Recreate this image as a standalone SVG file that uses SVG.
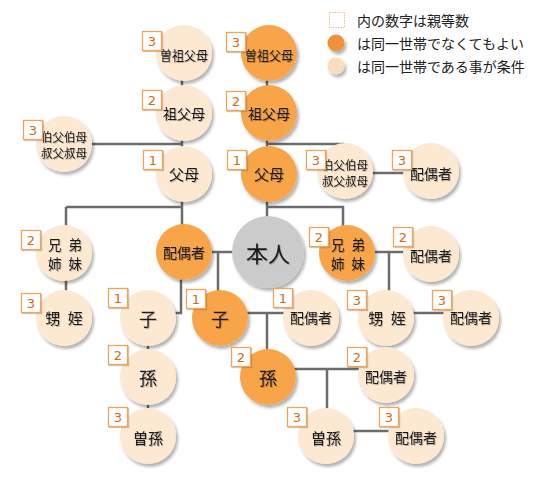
<svg xmlns="http://www.w3.org/2000/svg" width="540" height="500" viewBox="0 0 540 500">
<defs>
<filter id="sh" x="-30%" y="-30%" width="160%" height="160%">
<feDropShadow dx="2" dy="3" stdDeviation="1.5" flood-color="#000" flood-opacity="0.3"/>
</filter>
<filter id="bsh" x="-30%" y="-30%" width="160%" height="160%">
<feDropShadow dx="1" dy="1" stdDeviation="0.6" flood-color="#000" flood-opacity="0.3"/>
</filter>
<filter id="tsh" x="-20%" y="-20%" width="140%" height="140%">
<feDropShadow dx="1" dy="1" stdDeviation="0.7" flood-color="#000" flood-opacity="0.25"/>
</filter>
</defs>
<style>
.o{fill:#f8a548;filter:url(#sh)}
.l{fill:#fde8d2;filter:url(#sh)}
.g{fill:#cbcbcb;filter:url(#sh)}
.c{fill:none;stroke:#6c6c6c;stroke-width:2.5}
.t{font-family:"Noto Sans CJK JP","Noto Sans CJK SC",sans-serif;fill:#1a1a1a;text-anchor:middle;dominant-baseline:central;filter:url(#tsh)}
.sp{letter-spacing:2px}
.b{fill:#fff;stroke:#f0a55a;stroke-width:1.3;filter:url(#bsh)}
.n{font-family:"DejaVu Sans","Liberation Sans",sans-serif;font-size:13px;fill:#d06a1a;text-anchor:middle;dominant-baseline:central}
.lg{font-family:"Noto Sans CJK JP",sans-serif;font-size:14px;fill:#222}
</style>
<rect width="540" height="500" fill="#fff"/>
<g id="connectors">
<path class="c" d="M182 53V252"/>
<path class="c" d="M64 144H182"/>
<path class="c" d="M66 207H182M66 207V318"/>
<path class="c" d="M267 53V252"/>
<path class="c" d="M267 144H343V171"/>
<path class="c" d="M267 207H343V253"/>
<path class="c" d="M345 173H431"/>
<path class="c" d="M347 252H431M389 252V318"/>
<path class="c" d="M386 313H471"/>
<path class="c" d="M184 252H268"/>
<path class="c" d="M218 252V318"/>
<path class="c" d="M181 252V313H148"/>
<path class="c" d="M220 313H311M267 313V377"/>
<path class="c" d="M148 318V436"/>
<path class="c" d="M268 369H386M327 369V436"/>
<path class="c" d="M326 431H416"/>
</g>
<g id="legend">
<rect x="329.5" y="12.5" width="15" height="15" fill="#fff" stroke="#f2c08a" stroke-dasharray="1.5 1"/>
<text class="lg" x="357" y="26">内の数字は親等数</text>
<circle cx="336" cy="43" r="8.5" fill="#ef9237" filter="url(#sh)"/>
<text class="lg" x="357" y="49">は同一世帯でなくてもよい</text>
<circle cx="336" cy="66" r="8.5" fill="#fbdcbc" filter="url(#sh)"/>
<text class="lg" x="357" y="72">は同一世帯である事が条件</text>
</g>
<g id="sosofubo_L"><circle class="l" cx="184" cy="53" r="28"/><text class="t" x="184" y="54" font-size="13" textLength="48" lengthAdjust="spacingAndGlyphs">曽祖父母</text><rect class="b" x="142.5" y="31.5" width="19" height="19"/><text class="n" x="152" y="41">3</text></g>
<g id="sofubo_L"><circle class="l" cx="184" cy="113" r="28"/><text class="t" x="184" y="113" font-size="14">祖父母</text><rect class="b" x="142.5" y="90.5" width="19" height="19"/><text class="n" x="152" y="100">2</text></g>
<g id="fubo_L"><circle class="l" cx="184" cy="174" r="28"/><text class="t" x="184" y="173" font-size="15">父母</text><rect class="b" x="143.5" y="150.5" width="19" height="19"/><text class="n" x="153" y="160">1</text></g>
<g id="oji_L"><circle class="l" cx="64" cy="144" r="28"/><text class="t" font-size="12"><tspan x="64" y="136" textLength="46" lengthAdjust="spacingAndGlyphs">伯父伯母</tspan><tspan x="64" y="152" textLength="46" lengthAdjust="spacingAndGlyphs">叔父叔母</tspan></text><rect class="b" x="23.5" y="120.5" width="19" height="19"/><text class="n" x="33" y="130">3</text></g>
<g id="kyodai_L"><circle class="l" cx="64" cy="253" r="28"/><text class="t sp" font-size="13.5"><tspan x="66" y="244">兄 弟</tspan><tspan x="66" y="263">姉 妹</tspan></text><rect class="b" x="21.5" y="230.5" width="19" height="19"/><text class="n" x="31" y="240">2</text></g>
<g id="oimei_L"><circle class="l" cx="64" cy="318" r="28"/><text class="t sp" x="65" y="317" font-size="15">甥 姪</text><rect class="b" x="21.5" y="293.5" width="19" height="19"/><text class="n" x="31" y="303">3</text></g>
<g id="haigusha"><circle class="o" cx="184" cy="252" r="28"/><text class="t" x="184" y="252" font-size="14">配偶者</text></g>
<g id="ko_L"><circle class="l" cx="148" cy="318" r="28"/><text class="t" x="148" y="318" font-size="18">子</text><rect class="b" x="108.5" y="288.5" width="19" height="19"/><text class="n" x="118" y="298">1</text></g>
<g id="mago_L"><circle class="l" cx="148" cy="377" r="28"/><text class="t" x="148" y="377" font-size="18">孫</text><rect class="b" x="108.5" y="345.5" width="19" height="19"/><text class="n" x="118" y="355">2</text></g>
<g id="himago_L"><circle class="l" cx="148" cy="436" r="28"/><text class="t" x="148" y="437" font-size="15">曽孫</text><rect class="b" x="108.5" y="407.5" width="19" height="19"/><text class="n" x="118" y="417">3</text></g>
<g id="sosofubo_O"><circle class="o" cx="269" cy="53" r="28"/><text class="t" x="269" y="54" font-size="13" textLength="48" lengthAdjust="spacingAndGlyphs">曽祖父母</text><rect class="b" x="226.5" y="32.5" width="19" height="19"/><text class="n" x="236" y="42">3</text></g>
<g id="sofubo_O"><circle class="o" cx="269" cy="113" r="28"/><text class="t" x="269" y="113" font-size="14">祖父母</text><rect class="b" x="226.5" y="91.5" width="19" height="19"/><text class="n" x="236" y="101">2</text></g>
<g id="fubo_O"><circle class="o" cx="269" cy="174" r="28"/><text class="t" x="269" y="173" font-size="15">父母</text><rect class="b" x="227.5" y="150.5" width="19" height="19"/><text class="n" x="237" y="160">1</text></g>
<g id="honnin"><circle class="g" cx="268" cy="252" r="36"/><text class="t" x="268" y="252" font-size="22">本人</text></g>
<g id="oji_R"><circle class="l" cx="345" cy="171" r="28"/><text class="t" font-size="12"><tspan x="345" y="164" textLength="46" lengthAdjust="spacingAndGlyphs">伯父伯母</tspan><tspan x="345" y="180" textLength="46" lengthAdjust="spacingAndGlyphs">叔父叔母</tspan></text><rect class="b" x="306.5" y="150.5" width="19" height="19"/><text class="n" x="316" y="160">3</text></g>
<g id="oji_spouse"><circle class="l" cx="431" cy="171" r="28"/><text class="t" x="431" y="173" font-size="14">配偶者</text><rect class="b" x="392.5" y="150.5" width="19" height="19"/><text class="n" x="402" y="160">3</text></g>
<g id="kyodai_R"><circle class="o" cx="347" cy="253" r="28"/><text class="t sp" font-size="13.5"><tspan x="349" y="244">兄 弟</tspan><tspan x="349" y="263">姉 妹</tspan></text><rect class="b" x="309.5" y="227.5" width="19" height="19"/><text class="n" x="319" y="237">2</text></g>
<g id="kyodai_spouse"><circle class="l" cx="431" cy="254" r="28"/><text class="t" x="431" y="255" font-size="14">配偶者</text><rect class="b" x="393.5" y="227.5" width="19" height="19"/><text class="n" x="403" y="237">2</text></g>
<g id="oimei_R"><circle class="l" cx="386" cy="318" r="28"/><text class="t sp" x="388" y="317" font-size="15">甥 姪</text><rect class="b" x="347.5" y="290.5" width="19" height="19"/><text class="n" x="357" y="300">3</text></g>
<g id="oimei_spouse"><circle class="l" cx="471" cy="318" r="28"/><text class="t" x="471" y="317" font-size="14">配偶者</text><rect class="b" x="432.5" y="290.5" width="19" height="19"/><text class="n" x="442" y="300">3</text></g>
<g id="ko_O"><circle class="o" cx="220" cy="318" r="28"/><text class="t" x="220" y="318" font-size="18">子</text><rect class="b" x="186.5" y="289.5" width="19" height="19"/><text class="n" x="196" y="299">1</text></g>
<g id="ko_spouse"><circle class="l" cx="311" cy="318" r="28"/><text class="t" x="311" y="317" font-size="14">配偶者</text><rect class="b" x="273.5" y="288.5" width="19" height="19"/><text class="n" x="283" y="298">1</text></g>
<g id="mago_O"><circle class="o" cx="268" cy="377" r="28"/><text class="t" x="268" y="377" font-size="18">孫</text><rect class="b" x="231.5" y="347.5" width="19" height="19"/><text class="n" x="241" y="357">2</text></g>
<g id="mago_spouse"><circle class="l" cx="386" cy="375" r="28"/><text class="t" x="386" y="376" font-size="14">配偶者</text><rect class="b" x="347.5" y="347.5" width="19" height="19"/><text class="n" x="357" y="357">2</text></g>
<g id="himago_R"><circle class="l" cx="326" cy="436" r="28"/><text class="t" x="326" y="437" font-size="15">曽孫</text><rect class="b" x="287.5" y="407.5" width="19" height="19"/><text class="n" x="297" y="417">3</text></g>
<g id="himago_spouse"><circle class="l" cx="416" cy="436" r="28"/><text class="t" x="416" y="437" font-size="14">配偶者</text><rect class="b" x="379.5" y="407.5" width="19" height="19"/><text class="n" x="389" y="417">3</text></g>
</svg>
